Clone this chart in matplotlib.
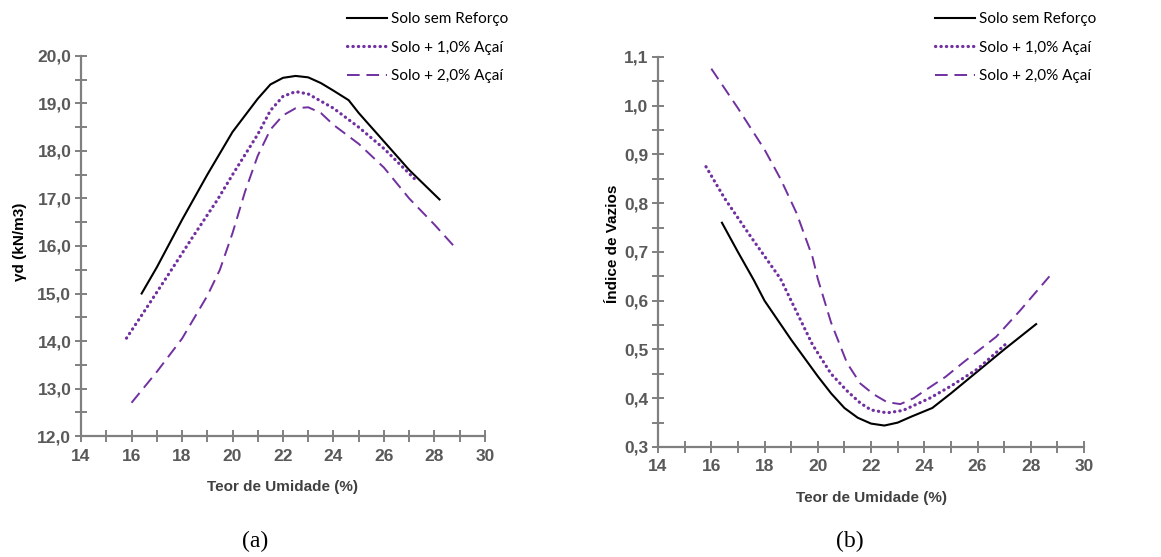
import matplotlib
matplotlib.use('Agg')
import matplotlib.pyplot as plt
from matplotlib.ticker import MultipleLocator, FuncFormatter

# --- dados ---
labels = ['Solo sem Reforço', 'Solo + 1,0% Açaí', 'Solo + 2,0% Açaí']

# (a) peso específico seco
gd_x0 = [16.4, 17.0, 18.0, 19.0, 20.0, 21.0, 21.5, 22.0, 22.5, 23.0, 23.5, 24.0, 24.6, 25.0, 26.0, 27.0, 28.2]
gd_y0 = [15.0, 15.55, 16.55, 17.5, 18.4, 19.1, 19.4, 19.54, 19.58, 19.55, 19.43, 19.27, 19.07, 18.8, 18.2, 17.6, 16.98]
gd_x1 = [15.8, 16.5, 17.4, 18.4, 19.4, 20.0, 21.0, 21.5, 22.0, 22.5, 23.0, 24.0, 25.0, 26.0, 27.2]
gd_y1 = [14.06, 14.62, 15.35, 16.17, 16.97, 17.5, 18.35, 18.85, 19.15, 19.25, 19.2, 18.9, 18.5, 18.05, 17.42]
gd_x2 = [16.0, 17.0, 18.0, 18.5, 19.0, 19.5, 20.0, 20.5, 21.0, 21.5, 22.0, 22.5, 23.0, 23.5, 24.0, 25.0, 26.0, 27.0, 28.0, 28.8]
gd_y2 = [12.7, 13.35, 14.05, 14.5, 14.95, 15.5, 16.27, 17.15, 17.9, 18.45, 18.75, 18.9, 18.92, 18.8, 18.55, 18.15, 17.65, 17.0, 16.45, 15.98]

# (b) índice de vazios
e_x0 = [16.4, 17.0, 17.6, 18.0, 19.0, 20.0, 20.5, 21.0, 21.5, 22.0, 22.5, 23.0, 23.5, 24.3, 25.0, 26.0, 27.0, 28.2]
e_y0 = [0.76, 0.70, 0.642, 0.60, 0.52, 0.445, 0.41, 0.38, 0.36, 0.348, 0.344, 0.35, 0.362, 0.38, 0.41, 0.455, 0.50, 0.552]
e_x1 = [15.8, 16.5, 17.5, 18.6, 19.8, 20.5, 21.1, 21.6, 22.0, 22.6, 23.2, 24.2, 25.0, 26.0, 27.1]
e_y1 = [0.875, 0.81, 0.73, 0.645, 0.51, 0.45, 0.415, 0.39, 0.376, 0.37, 0.375, 0.40, 0.425, 0.46, 0.513]
e_x2 = [16.0, 17.0, 18.0, 18.6, 19.2, 19.8, 20.0, 20.5, 21.1, 21.6, 22.1, 22.6, 23.1, 23.6, 24.0, 24.8, 25.5, 26.7, 27.6, 28.7]
e_y2 = [1.076, 0.995, 0.91, 0.85, 0.78, 0.69, 0.645, 0.555, 0.472, 0.43, 0.408, 0.392, 0.388, 0.40, 0.415, 0.444, 0.475, 0.526, 0.58, 0.65]

purple = '#7030A0'
axis_gray = '#808080'
tick_gray = '#595959'

fig = plt.figure(figsize=(11.61, 5.57), dpi=100)
ax1 = fig.add_axes([0.0698, 0.2172, 0.3479, 0.6823])
ax2 = fig.add_axes([0.5668, 0.1975, 0.3669, 0.7002])


def style_axis(ax, ylim, ymajor, yminor, yfmt):
    ax.set_xlim(14, 30)
    ax.set_ylim(*ylim)
    ax.xaxis.set_major_locator(MultipleLocator(2))
    ax.xaxis.set_minor_locator(MultipleLocator(1))
    ax.yaxis.set_major_locator(MultipleLocator(ymajor))
    ax.yaxis.set_minor_locator(MultipleLocator(yminor))
    ax.yaxis.set_major_formatter(FuncFormatter(lambda v, p: yfmt.format(v).replace('.', ',')))
    for s in ['top', 'right']:
        ax.spines[s].set_visible(False)
    for s in ['left', 'bottom']:
        ax.spines[s].set_color(axis_gray)
        ax.spines[s].set_linewidth(1.6)
    ax.tick_params(which='both', direction='inout', length=8, width=1.4, color=axis_gray,
                   labelcolor=tick_gray, labelsize=12.5)
    ax.tick_params(axis='x', pad=5)
    ax.tick_params(axis='y', pad=3)
    for lab in ax.get_xticklabels() + ax.get_yticklabels():
        lab.set_fontweight('bold')
        lab.set_family('Liberation Sans')
    ax.set_xlabel('Teor de Umidade (%)', fontsize=11, fontweight='bold', color='#404040',
                  family='Liberation Sans', labelpad=12)


def draw(ax, xs, ys):
    ax.plot(xs[0], ys[0], color='black', lw=1.5, label=labels[0])
    ax.plot(xs[1], ys[1], color=purple, lw=2.3, dashes=(0.1, 1.6), dash_capstyle='round',
            label=labels[1])
    ax.plot(xs[2], ys[2], color=purple, lw=1.4, dashes=(6.5, 3.5), label=labels[2])


draw(ax1, [gd_x0, gd_x1, gd_x2], [gd_y0, gd_y1, gd_y2])
draw(ax2, [e_x0, e_x1, e_x2], [e_y0, e_y1, e_y2])

style_axis(ax1, (12, 20), 1.0, 0.5, '{:.1f}')
style_axis(ax2, (0.3, 1.1), 0.1, 0.05, '{:.1f}')

ax1.set_ylabel('γd (kN/m3)', fontsize=11, fontweight='bold', color='black',
               family='Liberation Sans')
ax1.yaxis.set_label_coords(-0.135, 0.51)
ax2.set_ylabel('Índice de Vazios', fontsize=11, fontweight='bold', color='black',
               family='Liberation Sans')
ax2.yaxis.set_label_coords(-0.09, 0.52)

for ax, x0 in [(ax1, 347), (ax2, 935)]:
    ax.legend(loc='upper left', bbox_to_anchor=(x0 / 1161, 1 - 12 / 557),
              bbox_transform=fig.transFigure, frameon=False, borderpad=0, borderaxespad=0,
              handlelength=2.6, handletextpad=0.3, labelspacing=0.95,
              prop={'family': 'Lato', 'size': 11})

fig.text(255 / 1161, 1 - 541 / 557, '(a)', ha='center', va='center', fontsize=17,
         family='Liberation Serif')
fig.text(850 / 1161, 1 - 541 / 557, '(b)', ha='center', va='center', fontsize=17,
         family='Liberation Serif')

fig.savefig('out.png', dpi=100)
